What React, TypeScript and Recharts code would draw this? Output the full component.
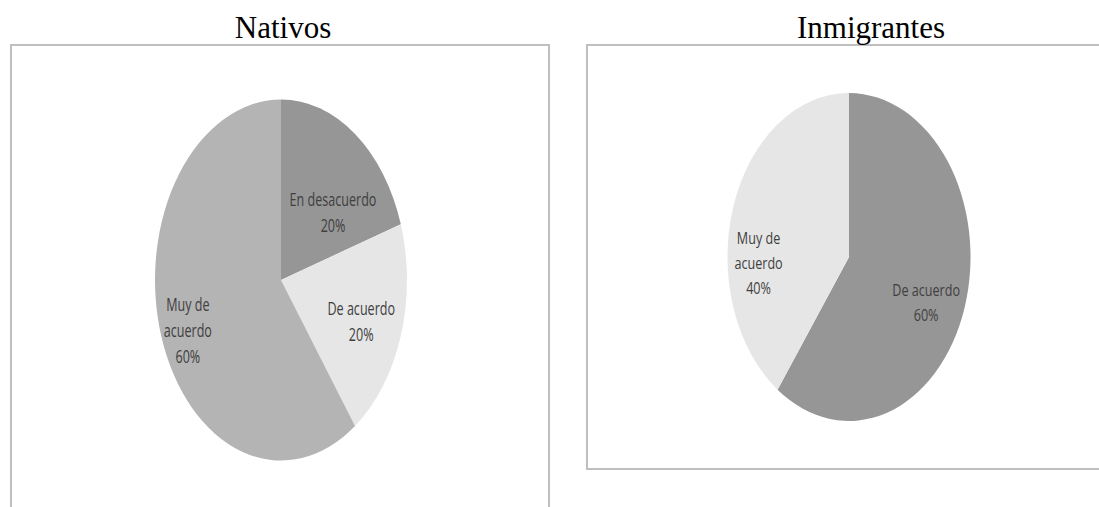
import React from 'react';
import { PieChart, Pie, Cell } from 'recharts';

// ---- Data ----
const nativosCategories = ['En desacuerdo', 'De acuerdo', 'Muy de acuerdo'];
const nativosValues = [20, 20, 60];
const nativosLabelLines = [['En desacuerdo'], ['De acuerdo'], ['Muy de', 'acuerdo']];

const inmigrantesCategories = ['De acuerdo', 'Muy de acuerdo'];
const inmigrantesValues = [60, 40];
const inmigrantesLabelLines = [['De acuerdo'], ['Muy de', 'acuerdo']];

const titles = ['Nativos', 'Inmigrantes'];

// ---- Styles ----
const nativosColors = ['#969696', '#e6e6e6', '#b4b4b4'];
const inmigrantesColors = ['#969696', '#e6e6e6'];
// label placement: radial fraction and angle shift (deg) from slice mid-angle
const nativosLabelPos = [
  { r: 0.56, da: -11.5 },
  { r: 0.676, da: -1.6 },
  { r: 0.79, da: 2.6 },
];
const inmigrantesLabelPos = [
  { r: 0.69, da: -5.1 },
  { r: 0.745, da: 20.6 },
];

const RAD = Math.PI / 180;
const noMargin = { top: 0, right: 0, bottom: 0, left: 0 };

function makeLabel(lines: string[][], pos: { r: number; da: number }[], fontSize: number, lineH: number) {
  return (props: any) => {
    const { cx, cy, midAngle, outerRadius, index, value } = props;
    const p = pos[index];
    const a = (midAngle + p.da) * RAD;
    const x = cx + outerRadius * p.r * Math.cos(a);
    const y = cy - outerRadius * p.r * Math.sin(a);
    const all = [...lines[index], `${value}%`];
    const n = all.length;
    return (
      <g key={`lbl-${index}`}>
        {all.map((t, i) => (
          <text
            key={i}
            x={x}
            y={y + (i - (n - 1) / 2) * lineH}
            textAnchor="middle"
            dominantBaseline="central"
            fill="#404040"
            fontFamily="'Open Sans', sans-serif"
            fontSize={fontSize}
          >
            {t}
          </text>
        ))}
      </g>
    );
  };
}

const nativosData = nativosCategories.map((c, i) => ({ name: c, value: nativosValues[i] }));
const inmigrantesData = inmigrantesCategories.map((c, i) => ({ name: c, value: inmigrantesValues[i] }));

const titleStyle: React.CSSProperties = {
  position: 'absolute',
  top: 12,
  width: 300,
  textAlign: 'center',
  fontFamily: "'Liberation Serif', 'Times New Roman', serif",
  fontSize: 31,
  lineHeight: '31px',
  color: '#000',
  whiteSpace: 'nowrap',
};

export default function App() {
  return (
    <div
      style={{
        position: 'absolute',
        left: 0,
        top: 0,
        width: 1099,
        height: 507,
        overflow: 'hidden',
        background: '#fff',
      }}
    >
      {/* Frames */}
      <svg
        width={1099}
        height={507}
        style={{ position: 'absolute', left: 0, top: 0, display: 'block' }}
      >
        <path d="M11 507 V45 H549 V507" fill="none" stroke="#bfbfbf" strokeWidth={2} />
        <path d="M1099 45 H587 V469 H1099" fill="none" stroke="#bfbfbf" strokeWidth={2} />
      </svg>

      {/* Titles */}
      <div style={{ ...titleStyle, left: 871 - 150 }}>{titles[1]}</div>
      <div style={{ ...titleStyle, left: 283 - 150 }}>{titles[0]}</div>

      {/* Nativos pie (stretched into an ellipse) */}
      <div
        style={{
          position: 'absolute',
          left: 280.5 - 200,
          top: 279.5 - 190,
          width: 400,
          height: 380,
          transform: 'scaleX(0.698)',
          transformOrigin: '200px 190px',
        }}
      >
        <PieChart width={400} height={380} margin={noMargin}>
          <Pie
            data={nativosData}
            dataKey="value"
            nameKey="name"
            cx={200}
            cy={190}
            outerRadius={180.5}
            startAngle={90}
            endAngle={-270}
            stroke="none"
            isAnimationActive={false}
            labelLine={false}
            label={makeLabel(nativosLabelLines, nativosLabelPos, 18, 26)}
          >
            {nativosData.map((d, i) => (
              <Cell key={d.name} fill={nativosColors[i]} />
            ))}
          </Pie>
        </PieChart>
      </div>

      {/* Inmigrantes pie */}
      <div
        style={{
          position: 'absolute',
          left: 848.5 - 180,
          top: 257 - 175,
          width: 360,
          height: 350,
          transform: 'scaleX(0.741)',
          transformOrigin: '180px 175px',
        }}
      >
        <PieChart width={360} height={350} margin={noMargin}>
          <Pie
            data={inmigrantesData}
            dataKey="value"
            nameKey="name"
            cx={180}
            cy={175}
            outerRadius={164}
            startAngle={90}
            endAngle={-270}
            stroke="none"
            isAnimationActive={false}
            labelLine={false}
            label={makeLabel(inmigrantesLabelLines, inmigrantesLabelPos, 17, 25)}
          >
            {inmigrantesData.map((d, i) => (
              <Cell key={d.name} fill={inmigrantesColors[i]} />
            ))}
          </Pie>
        </PieChart>
      </div>
    </div>
  );
}
